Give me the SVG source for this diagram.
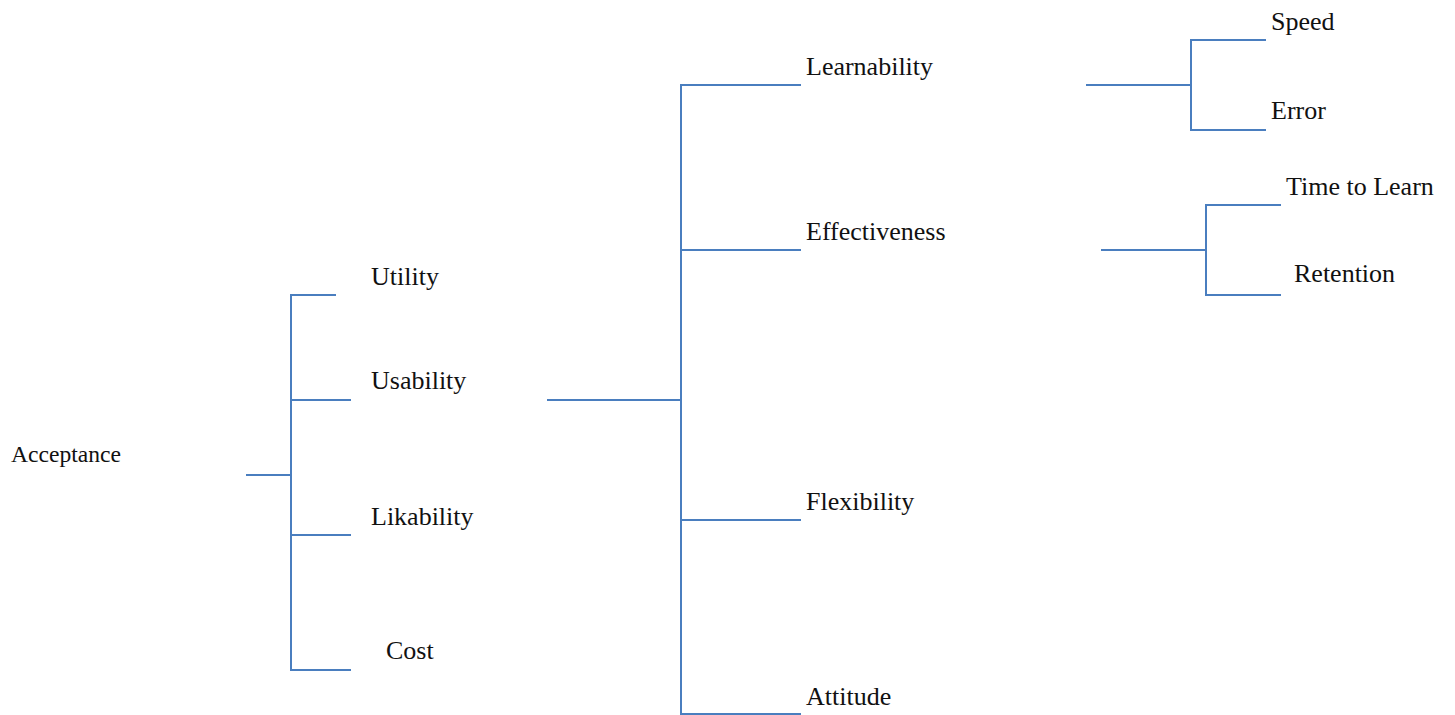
<svg xmlns="http://www.w3.org/2000/svg" width="1455" height="715" viewBox="0 0 1455 715">
<style>
.c{fill:none;stroke:#4a7ebf;stroke-width:2}
text{fill:#111}
</style>
<rect width="1455" height="715" fill="#fff"/>
<g id="connectors">
<path class="c" d="M246 475H291M336 295H291V670H351M291 400H351M291 535H351"/>
<path class="c" d="M547 400H681M801 85H681V715M681 250H801M681 520H801M681 714H801"/>
<path class="c" d="M1086 85H1191M1266 40H1191V130H1266"/>
<path class="c" d="M1101 250H1206M1281 205H1206V295H1281"/>
</g>
<g font-family="'Liberation Serif', 'Times New Roman', serif" font-size="26">
<g id="acceptance"><text x="11" y="462" font-size="23.6">Acceptance</text></g>
<g id="utility"><text x="371" y="285">Utility</text></g>
<g id="usability"><text x="371" y="389">Usability</text></g>
<g id="likability"><text x="371" y="525">Likability</text></g>
<g id="cost"><text x="386" y="659">Cost</text></g>
<g id="learnability"><text x="806" y="75">Learnability</text></g>
<g id="effectiveness"><text x="806" y="240">Effectiveness</text></g>
<g id="flexibility"><text x="806" y="510">Flexibility</text></g>
<g id="attitude"><text x="806" y="705">Attitude</text></g>
<g id="speed"><text x="1271" y="30">Speed</text></g>
<g id="error"><text x="1271" y="119">Error</text></g>
<g id="time-to-learn"><text x="1286" y="195">Time to Learn</text></g>
<g id="retention"><text x="1294" y="282">Retention</text></g>
</g>
</svg>
